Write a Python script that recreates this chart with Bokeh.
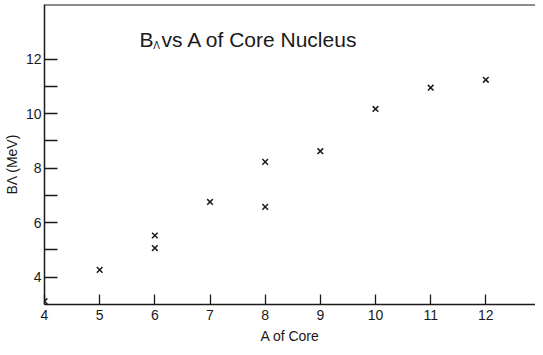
from bokeh.plotting import figure
from bokeh.models import FixedTicker, Span, Label
from bokeh.embed import file_html
from bokeh.resources import INLINE

# Data
a_core = [4, 5, 6, 6, 7, 8, 8, 9, 10, 11, 12]
b_lambda = [3.12, 4.27, 5.07, 5.53, 6.76, 6.58, 8.23, 8.62, 10.17, 10.95, 11.24]
x_ticks = [4, 5, 6, 7, 8, 9, 10, 11, 12]
y_major = [4, 6, 8, 10, 12]
y_minor = [5, 7, 9, 11]

FONT = "Liberation Sans"
INK = "#1a1a1a"

X0, X1 = 4, 12.9
Y0, Y1 = 3, 14.0

p = figure(width=535, height=347, x_range=(X0, X1), y_range=(Y0, Y1),
           output_backend="svg", toolbar_location=None,
           min_border_left=39, min_border_right=0, min_border_top=4, min_border_bottom=43)
p.outline_line_color = None
p.xgrid.visible = False
p.ygrid.visible = False
p.background_fill_color = "white"
p.border_fill_color = "white"

# x axis
xa = p.xaxis[0]
xa.ticker = FixedTicker(ticks=x_ticks, minor_ticks=[])
xa.major_tick_in = 10
xa.major_tick_out = 0
xa.minor_tick_in = 0
xa.minor_tick_out = 0
xa.axis_line_width = 1.5
xa.axis_line_color = INK
xa.major_tick_line_color = INK
xa.major_tick_line_width = 1.3
xa.major_label_text_font = FONT
xa.major_label_text_font_size = "14px"
xa.major_label_text_color = INK
xa.major_label_standoff = 5
xa.axis_label = "A of Core"
xa.axis_label_text_font = FONT
xa.axis_label_text_font_size = "14px"
xa.axis_label_text_font_style = "normal"
xa.axis_label_text_color = INK
xa.axis_label_standoff = 5

# y axis
ya = p.yaxis[0]
ya.ticker = FixedTicker(ticks=y_major, minor_ticks=y_minor)
ya.major_tick_in = 13
ya.major_tick_out = 0
ya.minor_tick_in = 13
ya.minor_tick_out = 0
ya.axis_line_width = 1.5
ya.axis_line_color = INK
ya.major_tick_line_color = INK
ya.minor_tick_line_color = INK
ya.major_tick_line_width = 1.3
ya.minor_tick_line_width = 1.3
ya.major_label_text_font = FONT
ya.major_label_text_font_size = "14px"
ya.major_label_text_color = INK
ya.major_label_standoff = 3
ya.axis_label = "B\u039b (MeV)" + "\u00a0" * 5
ya.axis_label_text_font = FONT
ya.axis_label_text_font_size = "14px"
ya.axis_label_text_font_style = "normal"
ya.axis_label_text_color = INK
ya.axis_label_standoff = 3

# top border line
p.add_layout(Span(location=Y1, dimension="width", line_color=INK, line_width=2))

# data
p.scatter(a_core, b_lambda, marker="x", size=8, line_width=1.5, line_color=INK)

# title pieces
p.add_layout(Label(x=5.72, y=12.72, text="B", text_font=FONT, text_font_size="21px",
                   text_color=INK, text_baseline="alphabetic"))
p.add_layout(Label(x=5.97, y=12.51, text="\u039b", text_font=FONT, text_font_size="10px",
                   text_color=INK, text_baseline="alphabetic"))
p.add_layout(Label(x=6.12, y=12.72, text="vs  A  of  Core  Nucleus", text_font=FONT,
                   text_font_size="21px", text_color=INK, text_baseline="alphabetic"))

open("out.html", "w").write(file_html(p, INLINE))
